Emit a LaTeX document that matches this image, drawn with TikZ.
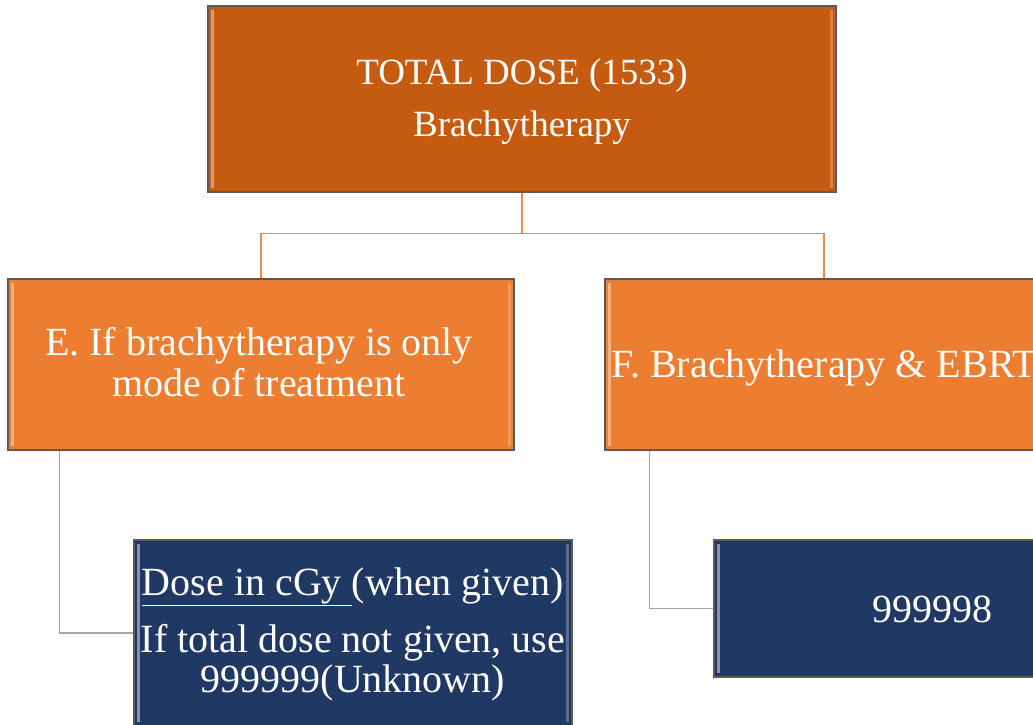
\documentclass[tikz,border=0pt]{standalone}
\usepackage{fontspec}
\setmainfont{Liberation Serif}
\usetikzlibrary{calc}
\definecolor{rust}{HTML}{C55A11}
\definecolor{tangerine}{HTML}{ED7D31}
\definecolor{navy}{HTML}{203864}
\definecolor{edge}{HTML}{5A5A5A}
\definecolor{linkorange}{HTML}{F08A45}
\definecolor{linkgray}{HTML}{A6A6A6}
\tikzset{
  panel/.style={draw=edge, line width=1.2pt, inner sep=0pt,
    path picture={
      \fill[#1] ([xshift=3pt,yshift=-4pt]path picture bounding box.north west)
        rectangle ([xshift=6pt,yshift=4pt]path picture bounding box.south west);
      \fill[#1, opacity=0.6] ([xshift=-6pt,yshift=-4pt]path picture bounding box.north east)
        rectangle ([xshift=-3pt,yshift=4pt]path picture bounding box.south east);
    }},
  warm/.style={panel={#1!60!white}, fill=#1},
  cool/.style={panel={#1!55!white}, fill=#1},
  label/.style={text=white, anchor=base, inner sep=0pt},
  big/.style={label, font=\fontsize{37}{44}\selectfont},
  body/.style={label, font=\fontsize{40}{44}\selectfont},
  orangelink/.style={draw=linkorange, line width=1.2pt},
  graylink/.style={draw=linkgray, line width=1.2pt},
}
\begin{document}
\begin{tikzpicture}[x=1pt,y=-1pt]
\useasboundingbox (0,0) rectangle (1033,724);
\clip (0,0) rectangle (1033,724);

% boxes
\node[warm=rust, minimum width=628pt, minimum height=186pt] (top) at (522,99) {};
\node[warm=tangerine, minimum width=506pt, minimum height=171pt] (only) at (261,364.5) {};
\node[warm=tangerine, minimum width=438pt, minimum height=171pt] (both) at (824,364.5) {};
\node[cool=navy, minimum width=438pt, minimum height=186pt] (unknown) at (353,633) {};
\node[cool=navy, minimum width=436pt, minimum height=137pt] (code) at (932,608.5) {};

% connectors
\draw[orangelink] (top.south) -- ++(0,41) -| (only.north);
\draw[orangelink] (top.south) -- ++(0,41) -| (both.north);
\draw[graylink] ([xshift=52pt]only.south west) |- (unknown.west);
\draw[graylink] ([xshift=45pt]both.south west) |- (code.west);

% texts
\node[big] (topA) at ($(top.center)+(0,-15)$) {TOTAL DOSE (1533)};
\node[big] (topB) at ($(top.center)+(0,37)$) {Brachytherapy};
\node[body] (onlyA) at ($(only.center)+(-2,-9.5)$) {E. If brachytherapy is only};
\node[body] (onlyB) at ($(only.center)+(-2,31.5)$) {mode of treatment};
\node[body] (bothA) at ($(both.center)+(0,12.5)$) {F. Brachytherapy \& EBRT};
\node[body] (unkA) at ($(unknown.center)+(0,-38)$) {\underline{Dose in cGy }(when given)};
\node[body] (unkB) at ($(unknown.center)+(0,19)$) {If total dose not given, use};
\node[body] (unkC) at ($(unknown.center)+(0,59)$) {999999(Unknown)};
\node[body] (codeA) at ($(code.center)+(0,13.5)$) {999998};
\end{tikzpicture}
\end{document}
